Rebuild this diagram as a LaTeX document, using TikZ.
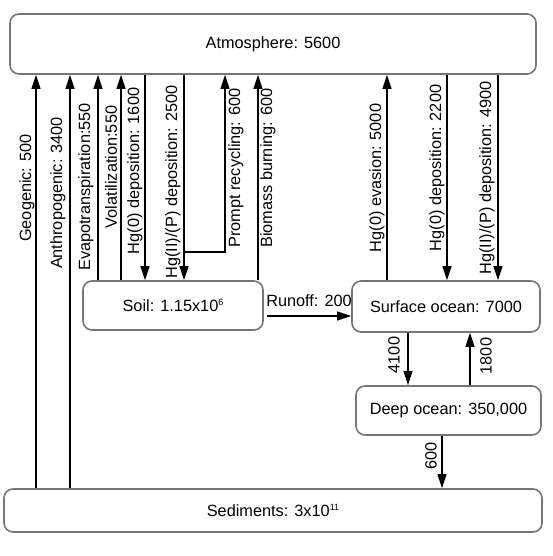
\documentclass[tikz,border=0pt]{standalone}
\usepackage{fontspec}
\setmainfont{Liberation Sans}
\usetikzlibrary{arrows.meta,calc,positioning}
\definecolor{boxgray}{RGB}{118,118,118}
\tikzstyle{pool} = [rectangle, rounded corners=9pt, draw=boxgray, line width=1.6pt, fill=white, text centered, font=\fontsize{16.3}{19}\selectfont]
\tikzstyle{flow} = [line width=1.2pt,-{Triangle[length=14pt,width=9pt]}]
\tikzstyle{lbl} = [rotate=90, font=\fontsize{16.3}{19}\selectfont, inner sep=0pt]
\newcommand{\powr}[1]{\raisebox{5.5pt}{\fontsize{9}{9}\selectfont #1}}

\begin{document}
\begin{tikzpicture}[x=1pt,y=-1pt]
	\useasboundingbox (0,0) rectangle (553,556);
	% reservoirs
	\node[pool,minimum width=526pt,minimum height=60pt] (atm) at (273,44) {Atmosphere: 5600};
	\node[pool,minimum width=180pt,minimum height=49pt] (soil) at (173,305.5) {Soil: 1.15x10\powr{6}};
	\node[pool,minimum width=188pt,minimum height=51pt] (surf) at (446,306.5) {Surface ocean: 7000};
	\node[pool,minimum width=185pt,minimum height=49pt] (deep) at (448.5,410.5) {Deep ocean: 350,000};
	\node[pool,minimum width=538pt,minimum height=43pt] (sed) at (273,510.5) {Sediments: 3x10\powr{11}};
	% flow columns
	\coordinate (geo) at (36,0);
	\coordinate (anth) at (70,0);
	\coordinate (evap) at (98,0);
	\coordinate (vol) at (121,0);
	\coordinate (depA) at (145,0);
	\coordinate (depB) at (184,0);
	\coordinate (prompt) at (225,0);
	\coordinate (bio) at (258,0);
	\coordinate (evas) at (387,0);
	\coordinate (depC) at (447,0);
	\coordinate (depD) at (498,0);
	\coordinate (sink) at (408,0);
	\coordinate (rise) at (470,0);
	\coordinate (bury) at (442,0);
	\coordinate (split) at (184,252);
	\coordinate (run) at (0,316);
	% sediments to atmosphere
	\draw[flow] (geo |- sed.north) -- (geo |- atm.south);
	\draw[flow] (anth |- sed.north) -- (anth |- atm.south);
	% soil and atmosphere
	\draw[flow] (evap |- soil.north) -- (evap |- atm.south);
	\draw[flow] (vol |- soil.north) -- (vol |- atm.south);
	\draw[flow] (depA |- atm.south) -- (depA |- soil.north);
	\draw[flow] (depB |- atm.south) -- (depB |- soil.north);
	\draw[flow] (split) -| (prompt |- atm.south);
	\draw[flow] (bio |- soil.north) -- (bio |- atm.south);
	% ocean and atmosphere
	\draw[flow] (evas |- surf.north) -- (evas |- atm.south);
	\draw[flow] (depC |- atm.south) -- (depC |- surf.north);
	\draw[flow] (depD |- atm.south) -- (depD |- surf.north);
	% runoff and ocean mixing
	\draw[flow,shorten <=3pt] (soil.east |- run) -- (surf.west |- run);
	\draw[flow] (sink |- surf.south) -- (sink |- deep.north);
	\draw[flow] (rise |- deep.north) -- (rise |- surf.south);
	\draw[flow] (bury |- deep.south) -- (bury |- sed.north);
	% labels
	\node[lbl] (lgeo) at (27,188) {Geogenic: 500};
	\node[lbl] (lanth) at (58,193) {Anthropogenic: 3400};
	\node[lbl] (levap) at (86,187) {Evapotranspiration:550};
	\node[lbl] (lvol) at (111,167) {Volatilization:550};
	\node[lbl] (ldepA) at (135,171) {Hg(0) deposition: 1600};
	\node[lbl] (ldepB) at (173,182) {Hg(II)/(P) deposition: 2500};
	\node[lbl] (lprompt) at (236,168) {Prompt recycling: 600};
	\node[lbl] (lbio) at (268,168) {Biomass burning: 600};
	\node[lbl] (levas) at (377,178) {Hg(0) evasion: 5000};
	\node[lbl] (ldepC) at (437,168) {Hg(0) deposition: 2200};
	\node[lbl] (ldepD) at (487,178) {Hg(II)/(P) deposition: 4900};
	\node[lbl] (lsink) at (394,355) {4100};
	\node[lbl] (lrise) at (486,356) {1800};
	\node[lbl] (lbury) at (431,456) {600};
	\node[font=\fontsize{16.3}{19}\selectfont,inner sep=0pt] (lrun) at (309,301) {Runoff: 200};
\end{tikzpicture}
\end{document}
